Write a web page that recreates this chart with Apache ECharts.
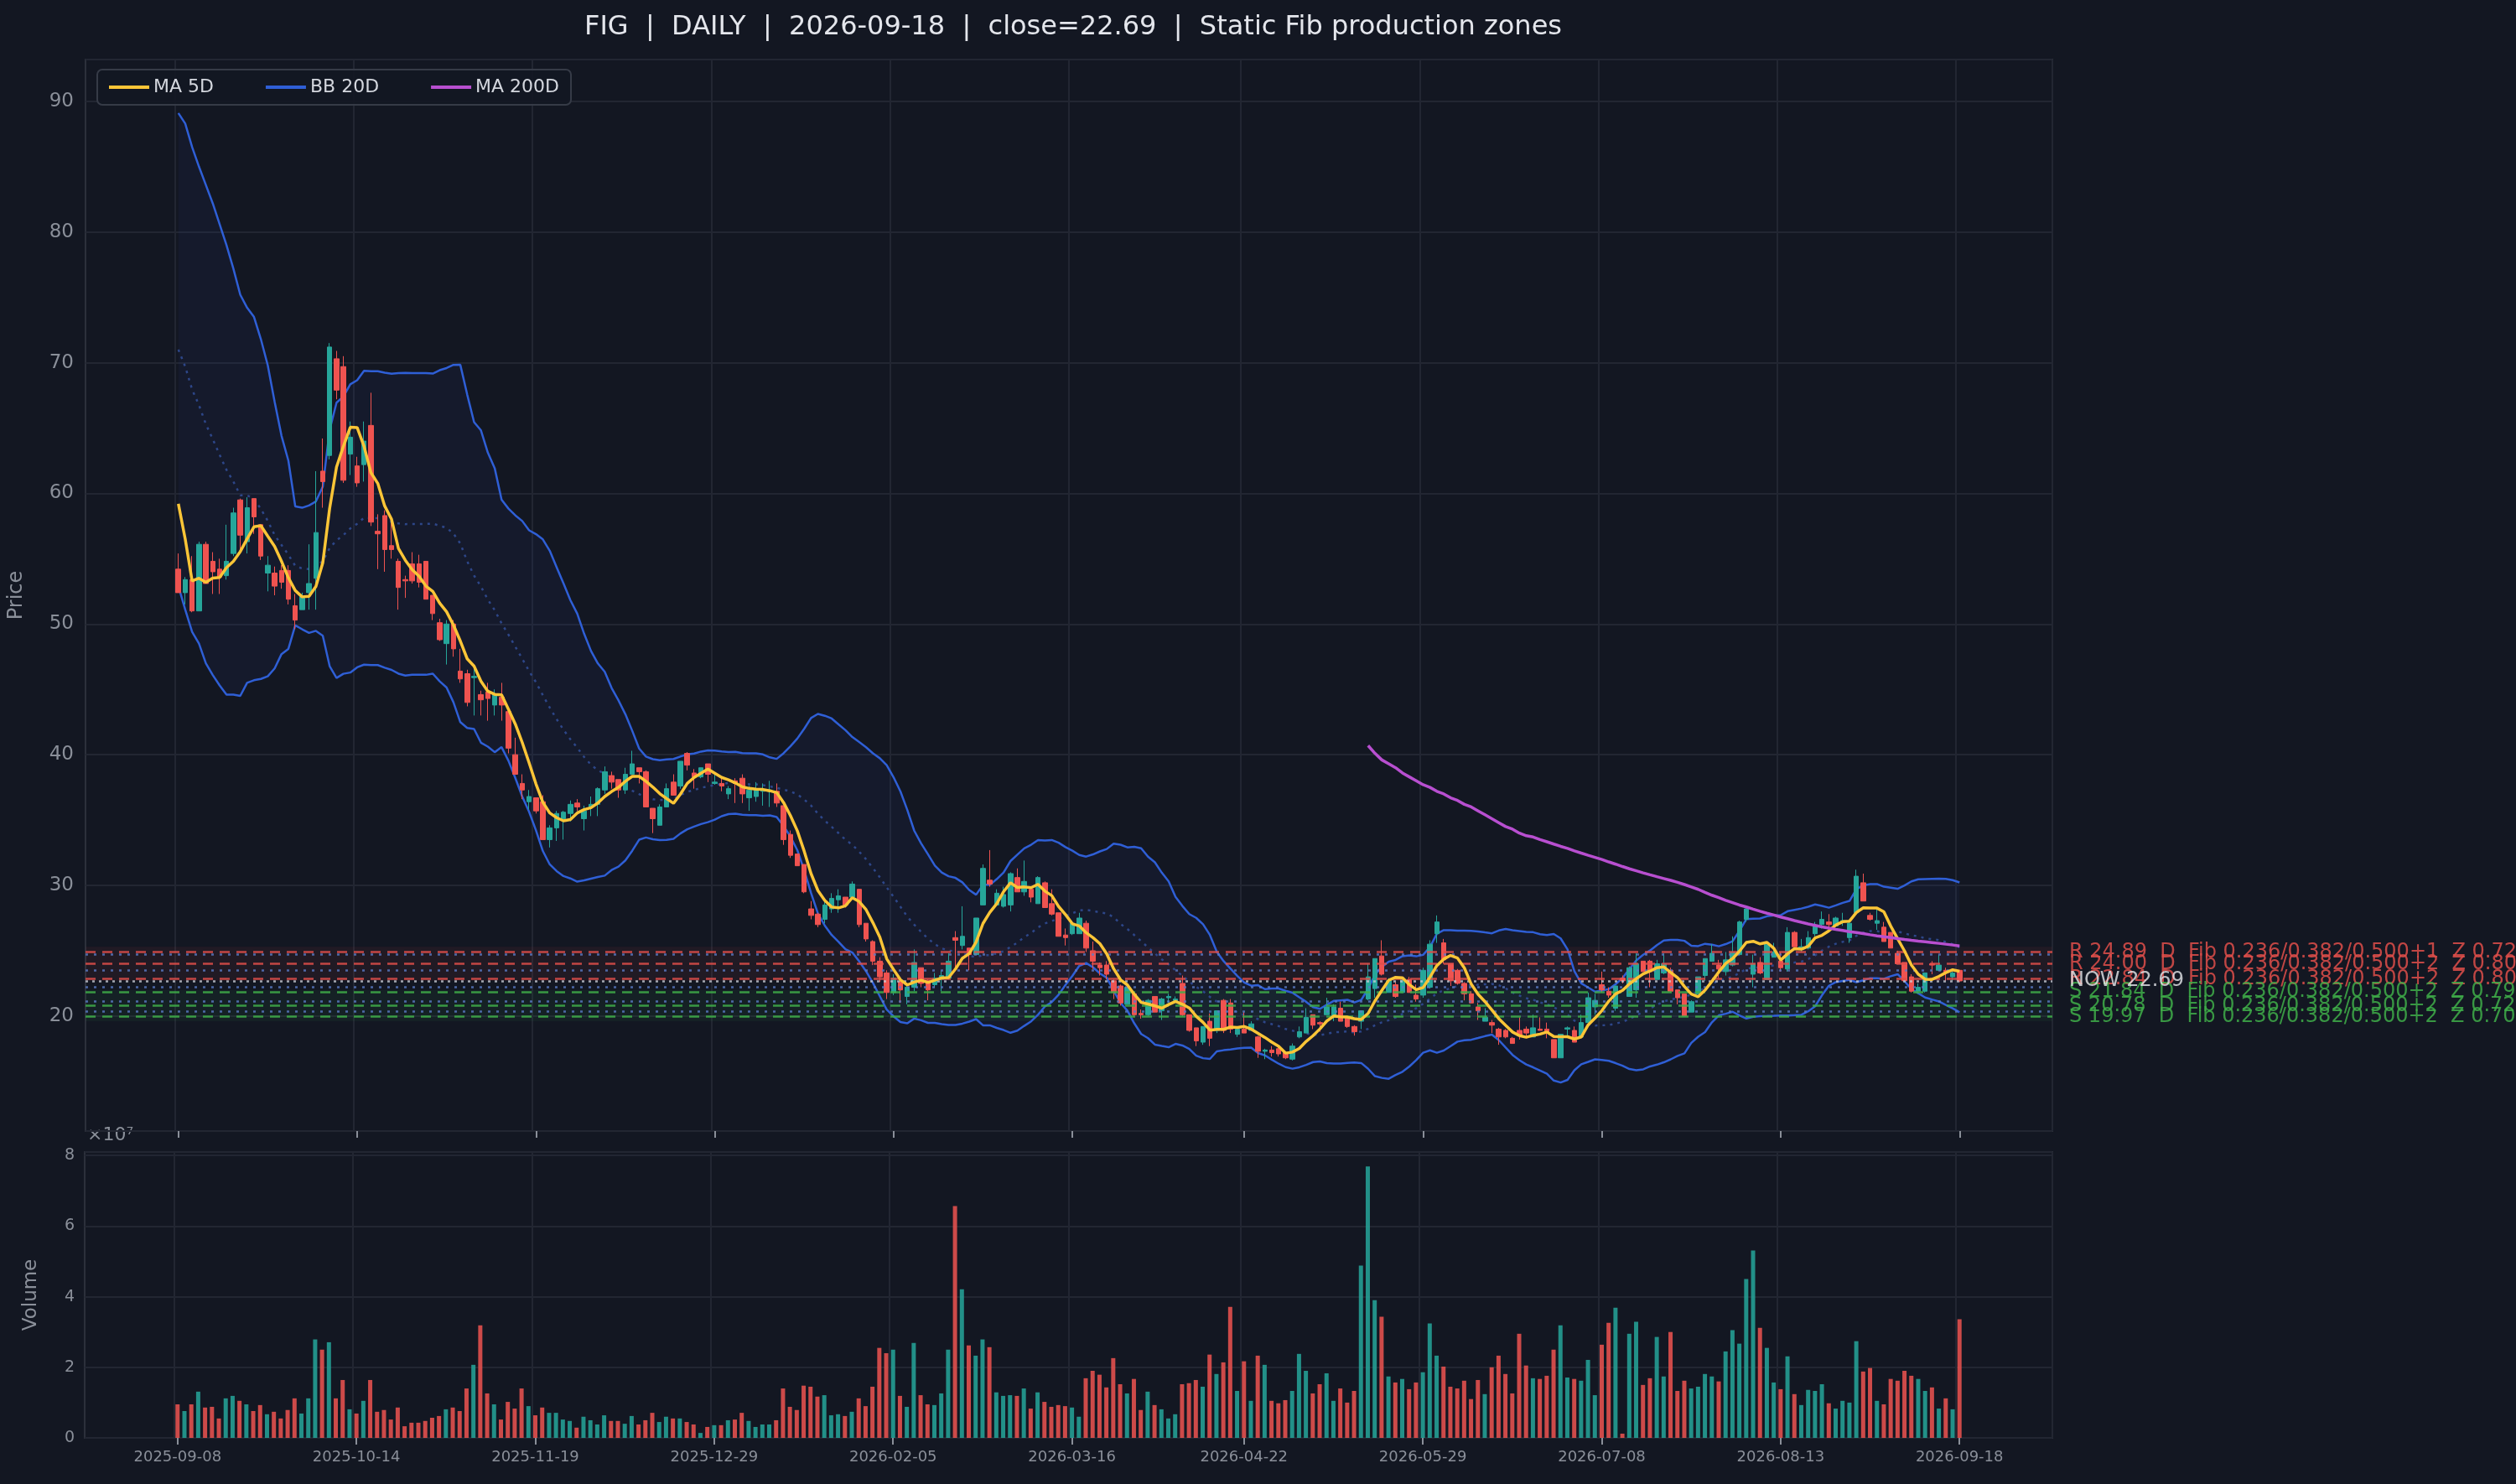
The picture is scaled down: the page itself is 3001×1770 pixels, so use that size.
<!DOCTYPE html>
<html><head><meta charset="utf-8">
<script src="https://cdn.jsdelivr.net/npm/echarts@6/dist/echarts.min.js"></script>
<style>html,body{margin:0;padding:0;background:#131722;}#c{width:3001px;height:1770px;}</style>
</head><body><div id="c"></div>
<script>
const tickLabels = ['2025-09-08','2025-10-14','2025-11-19','2025-12-29','2026-02-05','2026-03-16','2026-04-22','2026-05-29','2026-07-08','2026-08-13','2026-09-18'];
const tickBars = [0,26,52,78,104,130,155,181,207,233,259];
const opens = [54.2,52.4,53.4,51.0,56.1,54.8,54.2,53.7,55.4,59.5,
56.3,59.6,57.6,53.9,53.9,54.1,54.1,51.4,51.1,52.4,
53.5,61.7,62.9,70.3,69.7,63.0,62.1,62.2,65.2,57.1,
58.3,56.0,54.8,53.4,54.6,54.6,54.8,52.2,50.1,48.5,
50.0,46.4,46.2,45.9,44.6,44.8,43.8,44.4,43.3,40.0,
37.8,36.4,36.7,36.4,33.5,34.4,35.1,35.5,36.3,35.1,
36.0,36.2,37.3,38.4,38.1,37.3,38.5,39.0,38.7,35.9,
34.6,36.0,37.9,37.6,40.1,38.6,38.3,39.3,37.8,37.8,
37.0,38.0,38.2,36.7,36.8,37.2,37.2,37.2,36.1,33.9,
32.4,31.6,28.2,27.8,27.4,28.2,28.9,29.1,29.1,29.7,
27.1,25.7,24.2,23.3,21.8,22.6,21.5,22.2,23.7,22.7,
22.4,22.8,22.9,26.0,25.4,25.2,24.7,28.5,30.4,28.5,
28.4,28.5,30.6,29.5,29.7,28.6,30.2,28.6,27.9,26.2,
26.3,26.3,27.1,25.0,23.9,23.9,22.7,22.3,20.9,21.7,
20.2,20.1,21.5,20.4,21.4,21.2,22.5,20.1,19.1,18.0,
19.6,18.9,21.2,21.0,18.6,19.0,18.9,18.4,17.3,17.4,
17.5,17.2,16.7,18.4,18.7,20.1,19.5,20.1,19.9,20.6,
19.9,19.2,19.6,21.3,22.1,24.6,21.8,22.4,21.8,22.8,
21.6,21.6,22.2,26.3,25.6,24.0,23.5,22.5,21.7,20.7,
19.6,19.5,19.0,18.9,18.3,18.9,19.0,18.4,19.0,19.0,
18.2,16.8,19.0,18.9,18.4,19.5,20.7,22.4,21.9,20.6,
22.9,21.5,22.0,24.2,24.2,22.8,23.3,23.5,22.0,21.7,
20.3,21.7,23.1,24.2,23.9,23.4,23.9,24.7,27.4,23.2,
24.1,22.8,24.5,24.2,23.6,26.4,25.1,25.2,26.3,27.0,
27.2,26.9,27.2,26.0,27.9,30.2,27.7,27.1,26.8,26.4,
24.8,24.1,23.0,21.9,21.9,24.0,23.5,23.5,23.0,23.5];
const closes = [52.4,53.4,51.0,56.1,53.1,54.0,53.6,54.8,58.5,56.8,
58.9,58.2,55.2,54.5,52.9,53.2,51.9,50.3,52.1,53.1,
57.0,60.9,71.2,67.9,61.0,64.3,60.8,64.0,57.8,56.9,
55.7,55.7,52.8,53.3,53.3,53.2,51.9,50.8,48.8,50.0,
48.1,45.8,44.0,46.0,44.2,44.3,44.6,43.8,40.5,38.5,
37.3,36.8,35.7,33.5,34.4,35.5,35.6,36.2,36.0,35.7,
36.2,37.4,38.7,37.9,37.3,38.5,39.3,38.7,36.0,35.1,
36.0,37.4,36.9,39.5,39.2,38.3,39.0,38.5,37.9,37.6,
37.4,37.8,37.0,37.3,37.3,37.3,37.3,36.3,33.5,32.3,
31.5,29.5,27.7,27.0,28.5,29.0,29.2,28.5,30.1,27.0,
25.9,24.2,23.0,21.8,22.9,22.0,22.2,24.1,22.5,22.0,
22.9,23.1,24.2,25.8,26.1,24.7,27.5,31.3,30.1,29.4,
29.3,30.9,29.5,30.3,29.1,30.6,28.3,27.8,26.1,26.0,
27.1,27.5,25.2,24.2,23.7,23.2,21.8,21.0,22.2,20.1,
20.1,21.2,20.3,21.3,21.5,21.3,20.1,18.9,18.1,19.2,
18.3,20.4,18.9,19.0,19.0,18.7,19.4,17.3,17.4,17.2,
17.1,16.8,17.7,18.8,19.9,19.3,19.4,20.7,20.7,19.6,
19.2,18.8,20.4,23.0,24.4,23.2,22.7,21.5,22.8,21.8,
21.3,23.5,25.5,27.2,24.3,22.7,22.5,21.7,21.0,20.4,
19.9,19.3,18.4,18.4,17.9,18.5,18.7,19.1,18.9,18.7,
16.8,18.6,19.1,18.0,19.5,21.4,21.2,22.0,21.6,22.3,
22.7,23.7,24.0,23.4,23.4,24.0,24.0,21.9,21.4,20.0,
21.1,23.0,24.4,24.8,23.6,24.3,24.9,27.2,28.2,24.0,
23.3,25.5,24.9,23.7,26.4,25.3,25.3,26.0,26.9,27.4,
27.0,27.5,27.3,27.1,30.7,28.8,27.4,27.3,25.7,25.2,
24.0,22.7,21.9,22.2,23.3,23.9,23.9,23.3,23.3,22.69];
const highs = [55.4,53.6,55.2,56.3,56.3,55.5,55.0,57.6,58.9,59.6,
59.7,59.6,57.6,55.2,54.4,54.5,54.5,52.3,52.4,56.1,
61.7,64.2,71.5,70.9,70.5,65.5,62.8,65.5,67.7,58.4,
58.7,58.0,55.0,53.7,55.5,55.3,54.8,52.2,50.4,50.3,
50.3,48.1,46.5,46.6,44.9,45.5,45.0,45.5,43.3,41.3,
38.5,37.3,36.7,36.9,34.6,35.7,35.7,36.5,36.6,36.1,
36.8,37.5,39.1,38.7,38.1,39.0,40.3,39.0,38.8,35.9,
36.2,37.8,38.5,39.5,40.2,38.9,39.0,39.3,38.5,38.2,
37.6,38.2,38.5,37.6,37.9,37.8,38.0,37.8,36.1,34.2,
32.4,31.6,28.8,27.9,29.0,29.4,29.7,29.1,30.3,29.7,
27.1,25.8,24.5,23.5,23.2,22.8,22.4,25.1,23.7,22.8,
23.3,23.5,24.8,26.5,28.4,25.2,27.5,31.6,32.7,29.7,
29.9,31.0,31.3,31.9,29.8,30.7,30.3,29.7,27.9,26.7,
27.3,27.9,27.3,25.7,24.1,24.2,22.8,22.4,22.3,21.8,
20.5,21.3,21.5,21.4,21.7,21.5,23.1,20.1,19.1,19.2,
20.2,20.4,21.3,21.3,19.2,20.3,19.6,18.5,17.5,17.7,
17.6,17.2,17.9,19.2,20.6,20.1,19.6,21.4,20.9,21.1,
20.0,19.3,20.4,24.0,24.4,25.8,22.9,22.6,23.0,23.0,
22.4,23.7,25.8,27.7,25.9,24.0,23.6,22.6,21.9,21.0,
20.6,19.7,19.1,19.0,18.4,19.9,19.2,20.1,19.9,19.5,
18.2,18.6,19.2,19.2,20.1,21.8,21.7,23.4,22.2,22.3,
23.1,23.8,24.8,24.2,24.3,24.3,24.8,23.7,22.0,21.7,
21.2,23.0,24.4,25.5,24.3,24.9,26.1,27.3,28.4,24.7,
24.5,25.6,25.6,24.9,26.8,26.5,25.9,26.5,27.2,28.0,
27.8,27.6,27.9,27.2,31.2,30.9,27.9,28.2,27.2,26.4,
25.0,24.1,23.2,22.5,23.3,24.2,24.7,23.7,23.5,23.5];
const lows = [52.4,51.5,50.9,51.0,53.1,52.3,52.3,53.4,55.2,55.4,
55.4,56.9,54.9,52.5,52.2,52.7,51.5,49.6,51.1,51.1,
51.1,58.9,62.6,67.2,60.8,61.4,60.5,60.9,57.5,54.2,
54.0,55.0,51.1,52.0,53.1,52.8,51.9,50.3,48.7,46.9,
47.5,45.5,43.7,43.0,43.0,42.6,43.0,42.6,40.1,38.5,
36.6,35.8,35.5,33.5,32.9,33.4,33.5,34.9,35.7,34.2,
35.3,35.3,37.0,37.4,36.7,37.0,38.5,37.8,36.0,34.0,
34.6,36.0,36.9,37.4,38.8,37.4,38.2,37.9,37.7,37.2,
36.6,36.3,36.3,35.7,36.4,36.1,36.0,36.0,33.1,32.1,
31.5,29.4,27.4,26.8,27.1,27.9,27.9,28.3,29.1,26.8,
25.7,23.9,22.6,21.3,21.6,21.0,20.9,21.9,22.2,21.2,
22.2,21.9,22.8,23.5,25.1,23.5,24.7,28.5,29.9,28.5,
28.3,28.0,29.5,29.2,28.7,28.6,28.3,27.7,26.1,25.4,
26.2,26.3,24.9,23.6,23.1,22.8,21.3,20.8,20.9,19.9,
19.8,20.0,20.3,19.7,21.0,21.0,20.0,18.8,17.7,17.8,
17.7,18.7,18.7,18.7,18.4,18.7,18.9,16.8,16.7,16.9,
16.9,16.7,16.6,18.3,18.7,19.0,18.8,20.1,19.6,19.6,
19.1,18.5,19.0,21.2,21.4,23.1,21.8,21.4,21.8,21.8,
21.1,21.4,22.1,25.6,24.0,22.3,22.4,21.2,21.0,19.7,
19.6,18.7,17.8,18.3,17.9,18.2,18.3,18.4,18.9,18.3,
16.8,16.8,18.5,18.0,18.4,19.5,20.1,21.8,21.4,20.4,
22.5,21.5,21.4,23.4,22.2,22.8,23.2,21.8,20.9,20.0,
20.3,21.7,22.7,24.2,22.9,23.1,23.8,24.7,27.2,22.2,
23.2,22.8,24.5,23.4,23.4,25.3,24.9,25.1,26.1,26.7,
26.4,26.9,26.9,25.6,27.9,28.8,27.3,26.6,25.7,25.2,
24.0,22.7,21.8,21.7,21.8,23.2,23.5,22.7,22.7,22.6];
const volumesM = [9.5,7.6,9.5,13.1,8.6,8.8,5.5,11.2,11.9,10.5,
9.5,7.6,9.3,6.7,7.4,5.5,7.9,11.2,6.9,11.2,
27.9,25.0,27.1,11.2,16.4,8.1,6.9,10.5,16.4,7.4,
7.9,5.2,8.6,3.3,4.3,4.3,4.8,5.7,6.2,8.1,
8.6,7.6,14.0,20.7,31.9,12.6,9.5,5.2,10.2,8.3,
14.0,9.0,6.4,8.6,7.1,7.1,5.2,4.8,2.9,6.0,
5.0,3.8,6.4,4.8,4.8,4.0,6.2,3.8,5.0,7.1,
4.5,6.0,5.5,5.5,4.5,3.8,1.4,3.1,3.6,3.6,
5.0,5.2,7.1,4.8,3.1,3.8,3.8,5.0,14.0,8.8,
7.9,14.8,14.5,11.7,12.1,6.4,6.7,6.2,7.4,11.2,
9.0,14.5,25.5,24.0,25.0,11.9,8.8,26.9,12.1,9.5,
9.3,12.6,25.0,65.7,42.1,26.2,23.3,27.9,25.7,12.9,
11.9,12.1,11.9,14.0,8.3,12.9,10.2,8.8,9.3,9.0,
8.6,6.0,16.9,19.0,17.9,14.3,22.6,15.2,12.6,16.7,
7.9,13.1,9.3,8.1,5.5,6.7,15.2,15.5,16.4,14.5,
23.6,18.1,21.4,37.1,13.3,21.7,10.5,23.3,20.7,10.5,
9.8,10.7,13.3,23.8,19.0,12.6,15.2,18.3,10.5,14.0,
10.0,13.3,48.8,76.9,39.0,34.3,17.4,15.7,16.7,13.8,
15.7,18.6,32.4,23.3,20.2,14.5,14.0,16.2,11.0,16.4,
12.4,20.0,23.3,18.1,12.6,29.5,20.5,16.9,16.7,17.6,
25.0,31.9,17.1,16.7,16.2,22.1,12.1,26.4,32.6,36.9,
1.2,29.5,32.9,15.0,16.9,28.6,17.4,30.0,13.3,16.2,
14.0,14.5,18.1,17.4,16.0,24.5,30.5,26.7,45.0,53.1,
31.2,25.5,15.7,13.8,23.1,12.4,9.3,13.6,13.3,15.2,
9.8,8.3,10.5,10.0,27.4,18.8,19.8,10.5,9.5,16.7,
16.2,19.0,17.6,16.7,13.3,14.3,8.3,11.2,8.1,33.6];
// indicator values before full windows (earlier history not shown)
const ma5Head = [59.2,56.5,53.3,53.5];
const bbUpperHead = [89.1,88.3,86.5,85.0,83.6,82.2,80.6,79.0,77.2,75.2,74.2,73.5,71.8,69.8,67.0,64.4,62.5,59.0,58.9];
const bbLowerHead = [52.9,51.1,49.4,48.5,47.0,46.1,45.3,44.6,44.6,44.5,45.5,45.7,45.8,46.0,46.6,47.7,48.1,49.9,49.6];
const ma200Start = 173;
const ma200Head = [40.7,40.1,39.6,39.3,39.0,38.6,38.3,38.0,37.7,37.5,37.2,37.0,36.7,36.5,36.2,36.0,35.7,35.4,35.1,34.8,34.5,34.3,34.0,33.8,33.7,33.5];
const zoneLevels = [24.89,24.00,22.84,21.84,20.78,19.97];
const zoneKinds = ['R','R','R','S','S','S'];
const zoneText = ['R 24.89  D  Fib 0.236/0.382/0.500+1  Z 0.72','R 24.00  D  Fib 0.236/0.382/0.500+2  Z 0.80','R 22.84  D  Fib 0.236/0.382/0.500+2  Z 0.80','S 21.84  D  Fib 0.236/0.382/0.500+2  Z 0.79','S 20.78  D  Fib 0.236/0.382/0.500+2  Z 0.72','S 19.97  D  Fib 0.236/0.382/0.500+2  Z 0.70'];
const fibDots = [24.73,23.48,22.20,21.16,20.37];
const resBand = [22.7,25.3];
const supBand = [19.6,22.0];
const nowPrice = 22.69;

const PAD = 13, N = closes.length;
const cats = [];
for (let i=0;i<PAD+N+PAD;i++) cats.push(String(i));
const pad = a => Array(PAD).fill('-').concat(a, Array(PAD).fill('-'));
const ma5 = [], bbU = [], bbL = [], bbM = [], ma200 = [];
for (let i=0;i<N;i++){
  if (i<4) ma5.push(ma5Head[i]); else { let s=0; for(let k=i-4;k<=i;k++) s+=closes[k]; ma5.push(+(s/5).toFixed(3)); }
  if (i<19){ bbU.push(bbUpperHead[i]); bbL.push(bbLowerHead[i]); bbM.push((bbUpperHead[i]+bbLowerHead[i])/2); }
  else { let s=0; for(let k=i-19;k<=i;k++) s+=closes[k]; const m=s/20; let v=0; for(let k=i-19;k<=i;k++) v+=(closes[k]-m)**2; const sd=Math.sqrt(v/19); bbU.push(m+2*sd); bbL.push(m-2*sd); bbM.push(m); }
  if (i<ma200Start) ma200.push('-'); else if (i<199) ma200.push(ma200Head[i-ma200Start]); else { let s=0; for(let k=i-199;k<=i;k++) s+=closes[k]; ma200.push(s/200); }
}
const candle = pad(opens.map((o,i)=>[o,closes[i],lows[i],highs[i]]));
const vol = pad(volumesM.map((v,i)=>({value:v*1e6,itemStyle:{color: closes[i]>=opens[i] ? 'rgba(38,166,154,0.85)':'rgba(239,83,80,0.85)'}})));
const tickSet = new Set(tickBars.map(b=>b+PAD));
const tickFn = (idx)=>tickSet.has(idx);
const lblColor = '#8a8f99', gridC = '#222632';
const FONT = 'DejaVu Sans';

const markLines = [];
zoneLevels.forEach((v,i)=>{
  const c = zoneKinds[i]==='R' ? '#e04f4a' : '#3fae49';
  markLines.push({yAxis:v, lineStyle:{color:c,type:[12,8],width:2.5,opacity:0.85}, label:{show:true,position:'end',distance:20,formatter:zoneText[i],color:c,fontSize:24,fontFamily:FONT}});
});
fibDots.forEach(v=>markLines.push({yAxis:v,lineStyle:{color:'#5a7cc8',type:[3,7],width:2.5,opacity:0.8},label:{show:false}}));
markLines.push({yAxis:nowPrice,lineStyle:{color:'#c8ccd4',type:[3,5],width:2.5,opacity:0.8},label:{show:true,position:'end',distance:20,formatter:'NOW 22.69',color:'#e8eaee',fontSize:24,fontFamily:FONT}});

const chart = echarts.init(document.getElementById('c'));
chart.setOption({
  animation:false,
  backgroundColor:'#131722',
  textStyle:{fontFamily:FONT},
  title:{text:'FIG  |  DAILY  |  2026-09-18  |  close=22.69  |  Static Fib production zones',left:1275,textAlign:'center',top:12,textStyle:{color:'#e4e6ec',fontSize:32,fontWeight:'normal',fontFamily:FONT}},
  legend:{data:['MA 5D','BB 20D','MA 200D'],left:116,top:83,padding:[10,14],itemGap:62,itemWidth:48,itemHeight:4,icon:'rect',backgroundColor:'rgba(19,23,34,0.9)',borderColor:'#363b47',borderWidth:2,borderRadius:6,textStyle:{color:'#d4d7de',fontSize:22,fontFamily:FONT}},
  graphic:[{type:'text',left:104,top:1343,style:{text:'×10⁷',fill:lblColor,fontSize:22,fontFamily:FONT}}],
  grid:[
    {left:101,top:71,width:2347,height:1278,show:true,borderColor:'#2c303b',borderWidth:2,backgroundColor:'transparent'},
    {left:101,top:1374,width:2347,height:341,show:true,borderColor:'#2c303b',borderWidth:2}
  ],
  xAxis:[
    {type:'category',data:cats,gridIndex:0,boundaryGap:true,axisLine:{show:false},axisLabel:{show:false},axisTick:{show:true,alignWithLabel:true,interval:tickFn,length:8,lineStyle:{color:lblColor,width:2}},splitLine:{show:true,interval:tickFn,lineStyle:{color:gridC,width:2}}},
    {type:'category',data:cats,gridIndex:1,boundaryGap:true,axisLine:{show:false},axisTick:{show:true,alignWithLabel:true,interval:tickFn,length:8,lineStyle:{color:lblColor,width:2}},splitLine:{show:true,interval:tickFn,lineStyle:{color:gridC,width:2}},
     axisLabel:{interval:tickFn,color:lblColor,fontSize:18,margin:14,fontFamily:FONT,formatter:(v,idx)=>{const j=tickBars.indexOf(idx-PAD);return j>=0?tickLabels[j]:'';}}}
  ],
  yAxis:[
    {type:'value',gridIndex:0,min:11.2,max:93.2,splitNumber:8,name:'Price',nameLocation:'middle',nameGap:70,nameTextStyle:{color:lblColor,fontSize:24,fontFamily:FONT},
     axisLabel:{color:lblColor,fontSize:23,margin:14,showMinLabel:false,showMaxLabel:false,formatter:v=>(Math.abs(v-Math.round(v))<1e-6&&Math.round(v)%10===0)?String(Math.round(v)):''},axisLine:{show:false},axisTick:{show:false},splitLine:{lineStyle:{color:gridC,width:2}}},
    {type:'value',gridIndex:1,min:0,max:8.1e7,interval:2e7,name:'Volume',nameLocation:'middle',nameGap:52,nameTextStyle:{color:lblColor,fontSize:23,fontFamily:FONT},
     axisLabel:{color:lblColor,fontSize:19,margin:12,showMaxLabel:false,formatter:v=>String(Math.round(v/1e7))},axisLine:{show:false},axisTick:{show:false},splitLine:{lineStyle:{color:gridC,width:2}}}
  ],
  series:[
    {name:'bbBase',type:'line',data:pad(bbL),stack:'bb',symbol:'none',lineStyle:{opacity:0},silent:true,z:1},
    {name:'bbFill',type:'line',data:pad(bbU.map((u,i)=>u-bbL[i])),stack:'bb',symbol:'none',lineStyle:{opacity:0},areaStyle:{color:'rgba(45,70,150,0.13)'},silent:true,z:1},
    {name:'zones',type:'line',data:[],symbol:'none',silent:true,
      markArea:{silent:true,itemStyle:{color:'rgba(200,60,60,0.08)'},data:[[{yAxis:resBand[0]},{yAxis:resBand[1]}],[{yAxis:supBand[0],itemStyle:{color:'rgba(60,170,80,0.07)'}},{yAxis:supBand[1]}]]},
      markLine:{silent:true,symbol:'none',data:markLines},z:2},
    {name:'bbMid',type:'line',data:pad(bbM),symbol:'none',lineStyle:{color:'#2d4688',width:2.5,type:[3,6]},z:3},
    {name:'BB 20D',type:'line',data:pad(bbU),symbol:'none',lineStyle:{color:'#2f5fd6',width:2.5},itemStyle:{color:'#2f5fd6'},z:3},
    {name:'BB 20D',type:'line',data:pad(bbL),symbol:'none',lineStyle:{color:'#2f5fd6',width:2.5},itemStyle:{color:'#2f5fd6'},z:3},
    {name:'candles',type:'candlestick',data:candle,barWidth:6,itemStyle:{color:'#26a69a',color0:'#ef5350',borderColor:'#26a69a',borderColor0:'#ef5350',borderWidth:1},z:4},
    {name:'MA 5D',type:'line',data:pad(ma5),symbol:'none',lineStyle:{color:'#fbc537',width:3.5},itemStyle:{color:'#fbc537'},z:5},
    {name:'MA 200D',type:'line',data:pad(ma200),symbol:'none',lineStyle:{color:'#b84fd0',width:3.5},itemStyle:{color:'#b84fd0'},z:5},
    {name:'volume',type:'bar',xAxisIndex:1,yAxisIndex:1,data:vol,barWidth:5}
  ]
});
</script></body></html>
